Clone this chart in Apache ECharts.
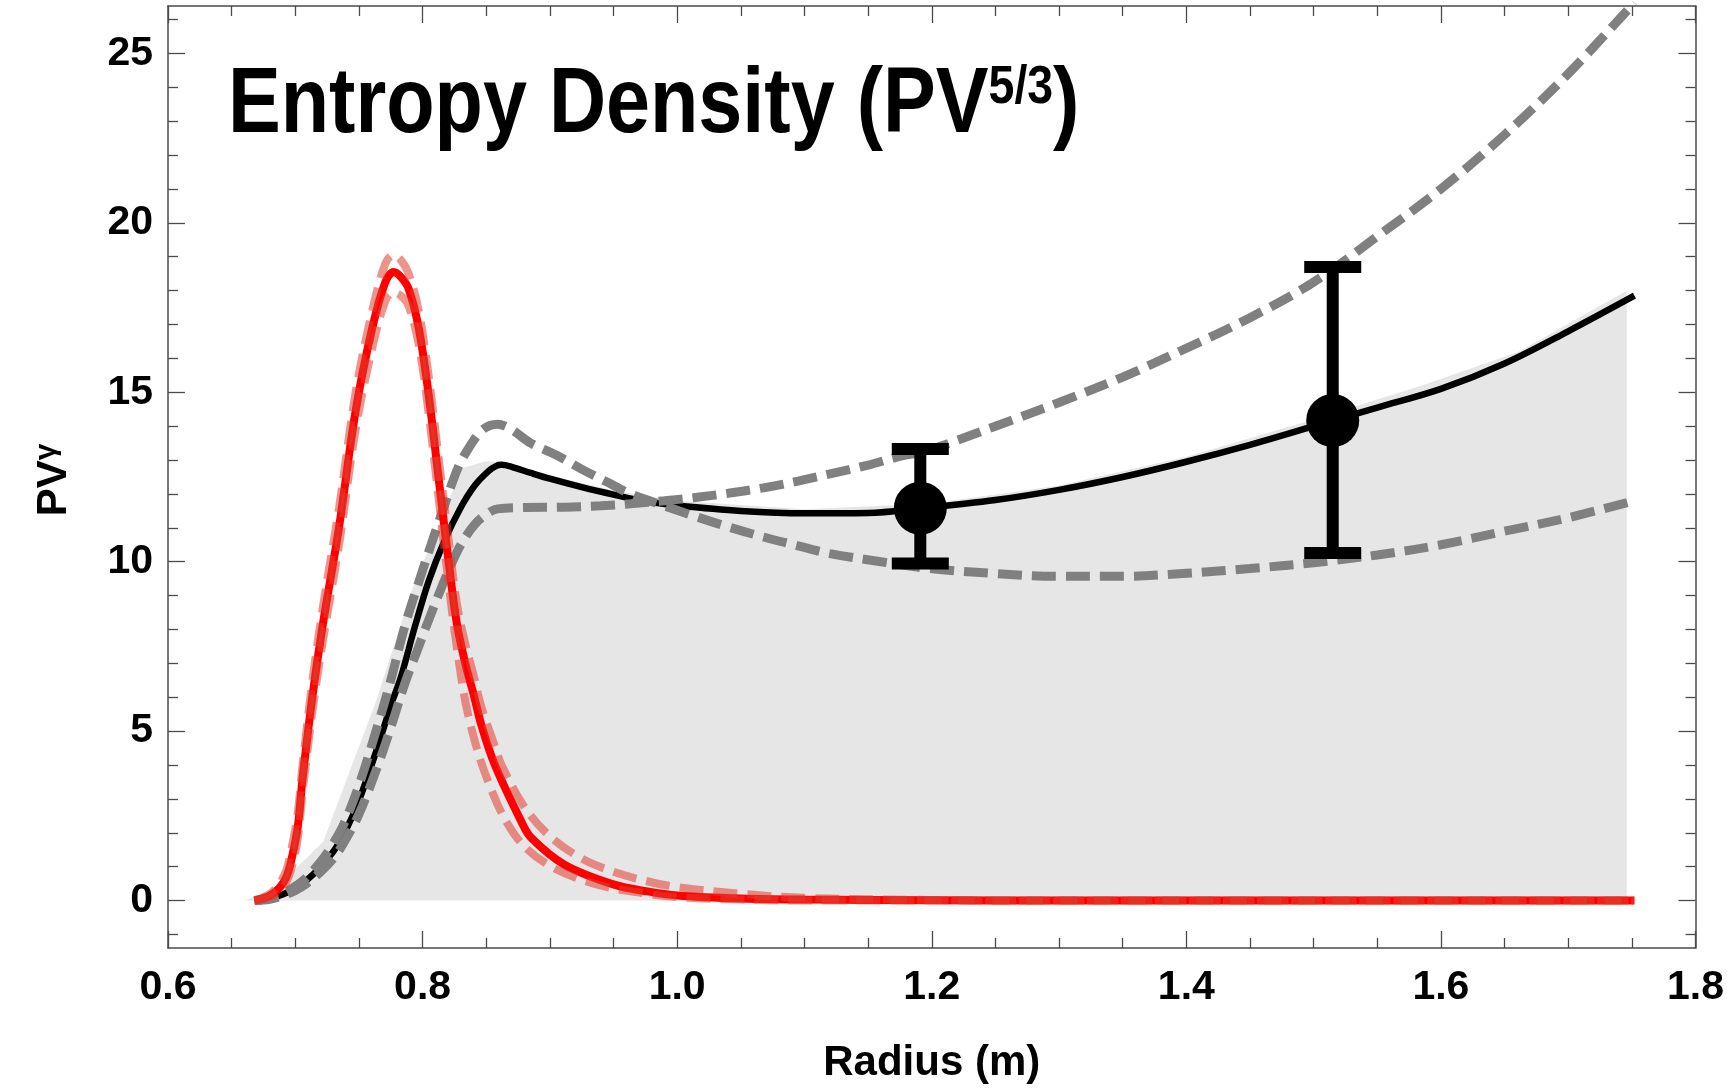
<!DOCTYPE html>
<html><head><meta charset="utf-8">
<script src="https://cdn.jsdelivr.net/npm/echarts@6/dist/echarts.min.js"></script>
<style>html,body{margin:0;padding:0;background:#fff}#c{width:1727px;height:1089px}</style>
</head><body><div id="c"></div>
<script>
// ---------------- DATA ----------------
const yMajorTicks = [0, 5, 10, 15, 20, 25];
const yMinorTicks = [-1, 1, 2, 3, 4, 6, 7, 8, 9, 11, 12, 13, 14, 16, 17, 18, 19, 21, 22, 23, 24, 26];

// measured entropy density (black solid)
const blackLine = [[0.668,0.0],[0.68,0.06],[0.69,0.18],[0.70,0.36],[0.708,0.57],[0.72,1.0],[0.73,1.45],[0.738,1.94],[0.75,2.95],[0.765,4.57],[0.775,5.75],[0.783,6.6],[0.794,8.09],[0.805,9.45],[0.817,10.6],[0.83,11.6],[0.841,12.25],[0.852,12.68],[0.858,12.83],[0.862,12.86],[0.87,12.8],[0.885,12.62],[0.9,12.45],[0.925,12.2],[0.95,11.98],[0.975,11.78],[1.0,11.66],[1.05,11.5],[1.1,11.43],[1.15,11.44],[1.19,11.57],[1.25,11.82],[1.3,12.12],[1.35,12.5],[1.4,12.95],[1.45,13.45],[1.5,14.0],[1.55,14.55],[1.6,15.1],[1.65,15.85],[1.7,16.8],[1.752,17.85]];

// gray dashed bound A (peaks ~14 then dips)
const grayBoundA = [[0.668,0],[0.68,0.07],[0.69,0.2],[0.70,0.42],[0.708,0.65],[0.72,1.15],[0.73,1.7],[0.738,2.25],[0.75,3.4],[0.765,5.2],[0.775,6.5],[0.786,8.09],[0.797,9.4],[0.807,10.54],[0.818,11.75],[0.828,12.79],[0.837,13.4],[0.846,13.86],[0.853,14.02],[0.859,14.06],[0.865,14.0],[0.872,13.85],[0.885,13.5],[0.905,13.15],[0.9245,12.74],[0.945,12.35],[0.9635,12.0],[0.99,11.65],[1.0156,11.32],[1.04,11.03],[1.0677,10.73],[1.095,10.47],[1.12,10.24],[1.16,10.0],[1.198,9.8],[1.25,9.65],[1.3,9.57],[1.35,9.57],[1.4,9.66],[1.45,9.8],[1.5,9.97],[1.55,10.2],[1.6,10.5],[1.65,10.9],[1.7,11.3],[1.752,11.8]];

// gray dashed bound B (flat ~11.6 then rising steeply)
const grayBoundB = [[0.668,0],[0.68,0.04],[0.69,0.14],[0.70,0.3],[0.708,0.48],[0.72,0.85],[0.73,1.25],[0.738,1.7],[0.75,2.55],[0.765,4.0],[0.775,5.1],[0.786,6.4],[0.795,7.3],[0.805,8.3],[0.82,9.7],[0.83,10.5],[0.841,11.1],[0.85,11.4],[0.859,11.56],[0.88,11.6],[0.9115,11.61],[0.94,11.65],[0.9635,11.71],[0.99,11.8],[1.0156,11.9],[1.04,12.02],[1.0677,12.18],[1.095,12.38],[1.12,12.59],[1.15,12.85],[1.172,13.08],[1.198,13.3],[1.25,14.0],[1.3,14.7],[1.35,15.45],[1.4,16.3],[1.45,17.2],[1.5,18.25],[1.55,19.6],[1.6,21.0],[1.65,22.6],[1.7,24.4],[1.752,26.5]];

// coarse filled region (light gray)
const fillTop = [[0.66,0],[0.683,0.3],[0.722,1.74],[0.763,5.84],[0.792,9.2],[0.831,12.76],[0.849,12.96],[0.862,12.95],[0.9,12.55],[0.95,12.1],[1.0,11.8],[1.1,11.55],[1.2,11.72],[1.3,12.25],[1.4,13.1],[1.5,14.2],[1.585,15.2],[1.661,16.2],[1.746,18.0]];

// red solid (model)
const redLine = [[0.668,0.0],[0.68,0.15],[0.6875,0.37],[0.693,0.7],[0.6966,1.15],[0.7018,2.13],[0.7057,3.6],[0.7135,6.04],[0.7214,8.09],[0.7344,11.03],[0.7474,14.45],[0.7604,16.89],[0.7708,18.26],[0.7773,18.55],[0.783,18.4],[0.789,18.06],[0.797,16.89],[0.8047,14.94],[0.8125,12.49],[0.8203,10.05],[0.8268,8.2],[0.8334,7.02],[0.8404,6.04],[0.8463,5.16],[0.8568,4.0],[0.8776,2.33],[0.8854,1.85],[0.9115,1.06],[0.9505,0.47],[0.9766,0.27],[1.0,0.15],[1.05,0.06],[1.1,0.03],[1.2,0.01],[1.3,0],[1.5,0],[1.752,0]];

// salmon dashed bounds
const redUpper = [[0.668,0],[0.68,0.2],[0.6875,0.5],[0.693,0.9],[0.6966,1.45],[0.7018,2.55],[0.7057,4.0],[0.7135,6.5],[0.7214,8.6],[0.7344,11.6],[0.7474,15.0],[0.7604,17.4],[0.7708,18.8],[0.777,19.05],[0.783,18.9],[0.789,18.5],[0.797,17.4],[0.8047,15.5],[0.8125,13.1],[0.8203,10.7],[0.8268,8.8],[0.8334,7.6],[0.8404,6.6],[0.8463,5.7],[0.8568,4.55],[0.862,4.0],[0.8802,2.75],[0.9,1.9],[0.9245,1.25],[0.95,0.85],[0.9766,0.57],[1.0,0.4],[1.05,0.2],[1.1,0.08],[1.2,0.02],[1.3,0],[1.752,0]];
const redLower = [[0.668,0],[0.68,0.1],[0.6875,0.28],[0.693,0.55],[0.6966,0.9],[0.7018,1.8],[0.7057,3.2],[0.7135,5.6],[0.7214,7.6],[0.7344,10.5],[0.7474,13.9],[0.7604,16.3],[0.7708,17.7],[0.777,17.95],[0.783,17.85],[0.789,17.55],[0.797,16.4],[0.8047,14.4],[0.8125,11.9],[0.8203,9.4],[0.8268,7.5],[0.836,5.45],[0.8516,3.5],[0.8724,1.94],[0.8984,1.06],[0.9375,0.47],[0.9766,0.2],[1.0,0.1],[1.05,0.03],[1.1,0],[1.752,0]];

// data points with error bars
const pointX = [1.191, 1.515];
const pointY = [11.58, 14.17];
const errLow = [9.95, 10.26];
const errHigh = [13.33, 18.70];

// ---------------- CHART ----------------
const FONT = '"Liberation Sans", Arial, Helvetica, sans-serif';
const frameColor = '#4a4a4a';
const chart = echarts.init(document.getElementById('c'), null, {renderer: 'canvas'});

const errData = pointX.map((x, i) => [x, pointY[i], errLow[i], errHigh[i]]);
const ptData = pointX.map((x, i) => [x, pointY[i]]);

const baseY = {type: 'value', min: -1.4, max: 26.4, splitLine: {show: false}};
const baseX = {type: 'value', min: 0.6, max: 1.8, interval: 0.2, splitLine: {show: false}};

const lineDefaults = {type: 'line', showSymbol: false, symbol: 'none', smooth: 0.35, silent: true, animation: false};
const DASH = [24, 10];

chart.setOption({
  animation: false,
  backgroundColor: '#ffffff',
  grid: {left: 168, right: 23, top: 6, bottom: 135, containLabel: false},
  xAxis: [
    Object.assign({}, baseX, {
      position: 'bottom',
      axisLine: {show: true, onZero: false, lineStyle: {color: frameColor, width: 1.5}},
      axisTick: {show: true, inside: true, length: 17, lineStyle: {color: frameColor, width: 1.3}},
      minorTick: {show: true, splitNumber: 4, length: 10, lineStyle: {color: frameColor, width: 1.3}},
      axisLabel: {show: true, margin: 19, color: '#000', fontSize: 41, fontWeight: 'bold', fontFamily: FONT,
        formatter: v => v.toFixed(1)},
      name: 'Radius (m)', nameLocation: 'middle', nameGap: 94,
      nameTextStyle: {color: '#000', fontSize: 42, fontWeight: 'bold', fontFamily: FONT}
    }),
    Object.assign({}, baseX, {
      position: 'top',
      axisLine: {show: true, onZero: false, lineStyle: {color: frameColor, width: 1.5}},
      axisTick: {show: true, inside: true, length: 17, lineStyle: {color: frameColor, width: 1.3}},
      minorTick: {show: true, splitNumber: 4, length: 10, lineStyle: {color: frameColor, width: 1.3}},
      axisLabel: {show: false}
    })
  ],
  yAxis: [
    Object.assign({}, baseY, {
      position: 'left',
      axisLine: {show: true, onZero: false, lineStyle: {color: frameColor, width: 1.5}},
      axisTick: {show: true, inside: true, length: 17, customValues: yMajorTicks, lineStyle: {color: frameColor, width: 1.3}},
      axisLabel: {show: true, margin: 15, customValues: yMajorTicks, color: '#000', fontSize: 41, fontWeight: 'bold', fontFamily: FONT}
    }),
    Object.assign({}, baseY, {
      position: 'left',
      axisLine: {show: false},
      axisTick: {show: true, inside: true, length: 10, customValues: yMinorTicks, lineStyle: {color: frameColor, width: 1.3}},
      axisLabel: {show: false}
    }),
    Object.assign({}, baseY, {
      position: 'right',
      axisLine: {show: true, onZero: false, lineStyle: {color: frameColor, width: 1.5}},
      axisTick: {show: true, inside: true, length: 17, customValues: yMajorTicks, lineStyle: {color: frameColor, width: 1.3}},
      axisLabel: {show: false}
    }),
    Object.assign({}, baseY, {
      position: 'right',
      axisLine: {show: false},
      axisTick: {show: true, inside: true, length: 10, customValues: yMinorTicks, lineStyle: {color: frameColor, width: 1.3}},
      axisLabel: {show: false}
    })
  ],
  graphic: [
    {
      type: 'text', x: 228, y: 107, scaleX: 0.86, z: 100,
      style: {
        text: '{a|Entropy Density (PV}{b|5/3}{a|)}',
        align: 'left', verticalAlign: 'middle',
        rich: {
          a: {fontSize: 92, fontWeight: 'bold', fontFamily: FONT, lineHeight: 92, fill: '#000'},
          b: {fontSize: 54, fontWeight: 'bold', fontFamily: FONT, lineHeight: 66, verticalAlign: 'top', fill: '#000'}
        }
      }
    },
    {
      type: 'text', x: 54, y: 480, rotation: Math.PI / 2, z: 100,
      style: {
        text: '{a|PV}{b|γ}',
        align: 'center', verticalAlign: 'middle',
        rich: {
          a: {fontSize: 42, fontWeight: 'bold', fontFamily: FONT, lineHeight: 44, fill: '#000'},
          b: {fontSize: 30, fontWeight: 'bold', fontFamily: FONT, lineHeight: 32, verticalAlign: 'top', fill: '#000'}
        }
      }
    }
  ],
  series: [
    Object.assign({}, lineDefaults, {
      name: 'fill', data: fillTop, smooth: false, z: 1,
      lineStyle: {width: 0, color: '#e7e6e7'},
      areaStyle: {color: '#e7e6e7', opacity: 1, origin: 0}
    }),
    Object.assign({}, lineDefaults, {
      name: 'measured', data: blackLine, z: 3,
      lineStyle: {width: 6.5, color: '#000000'}
    }),
    Object.assign({}, lineDefaults, {
      name: 'boundA', data: grayBoundA, z: 4,
      lineStyle: {width: 9, color: '#808080', type: DASH}
    }),
    Object.assign({}, lineDefaults, {
      name: 'boundB', data: grayBoundB, z: 4,
      lineStyle: {width: 9, color: '#808080', type: DASH}
    }),
    Object.assign({}, lineDefaults, {
      name: 'model', data: redLine, z: 5,
      lineStyle: {width: 8, color: '#ff0000'}
    }),
    Object.assign({}, lineDefaults, {
      name: 'modelUpper', data: redUpper, z: 6,
      lineStyle: {width: 8, color: 'rgba(225,60,45,0.55)', type: DASH}
    }),
    Object.assign({}, lineDefaults, {
      name: 'modelLower', data: redLower, z: 6,
      lineStyle: {width: 8, color: 'rgba(225,60,45,0.55)', type: DASH}
    }),
    {
      type: 'custom', name: 'errorbars', data: errData, z: 8, silent: true,
      encode: {x: 0, y: [1, 2, 3]},
      renderItem: function (params, api) {
        const x = api.value(0), lo = api.value(2), hi = api.value(3);
        const top = api.coord([x, hi]);
        const bot = api.coord([x, lo]);
        const capW = 57, capH = 12, barW = 12;
        return {
          type: 'group',
          children: [
            {type: 'rect', shape: {x: top[0] - barW / 2, y: top[1], width: barW, height: bot[1] - top[1]}, style: {fill: '#000'}},
            {type: 'rect', shape: {x: top[0] - capW / 2, y: top[1] - capH / 2, width: capW, height: capH}, style: {fill: '#000'}},
            {type: 'rect', shape: {x: bot[0] - capW / 2, y: bot[1] - capH / 2, width: capW, height: capH}, style: {fill: '#000'}}
          ]
        };
      }
    },
    {
      type: 'scatter', name: 'points', data: ptData, z: 9, silent: true,
      symbol: 'circle', symbolSize: 53, itemStyle: {color: '#000', opacity: 1}
    }
  ]
});
</script>
</body></html>
